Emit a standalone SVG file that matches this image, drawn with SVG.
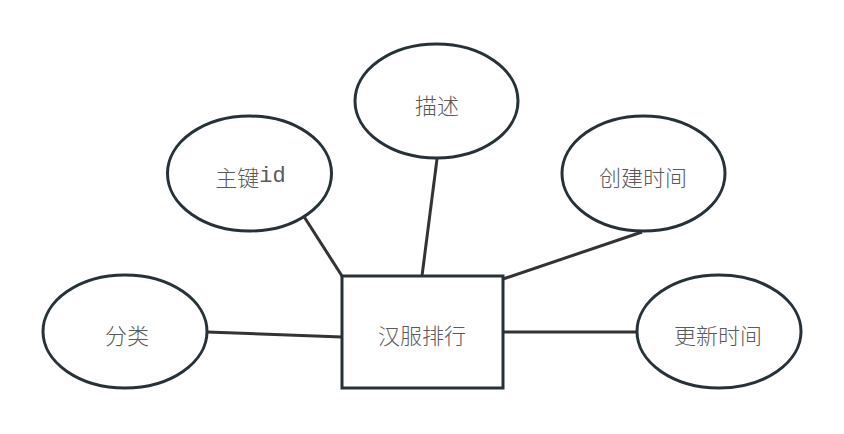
<svg xmlns="http://www.w3.org/2000/svg" width="844" height="434" viewBox="0 0 844 434">
<style>
.shape{fill:#fff;stroke:#263238;stroke-width:3}
.edge{stroke:#333;stroke-width:3;fill:none}
.lbl{font-family:"Noto Sans CJK SC","Noto Sans",sans-serif;font-size:22px;font-weight:300;fill:#5a5a5a;text-anchor:middle;dominant-baseline:central}
.mono{font-family:"Liberation Mono","DejaVu Sans Mono",monospace;font-weight:400}
</style>
<rect width="844" height="434" fill="#fff"/>
<g id="connectors">
<line class="edge" x1="303" y1="215" x2="342" y2="276"/>
<line class="edge" x1="437" y1="159" x2="422" y2="276"/>
<line class="edge" x1="642" y1="232" x2="503" y2="279"/>
<line class="edge" x1="207" y1="332" x2="342" y2="337"/>
<line class="edge" x1="503" y1="332" x2="637" y2="332"/>
</g>
<g id="main">
<rect class="shape" x="342" y="276" width="161" height="112"/>
<text class="lbl" x="422" y="334">汉服排行</text>
</g>
<g id="pk">
<ellipse class="shape" cx="249.5" cy="173.5" rx="82" ry="57.5"/>
<text class="lbl" x="250.5" y="176">主键<tspan class="mono">id</tspan></text>
</g>
<g id="desc">
<ellipse class="shape" cx="436.5" cy="101" rx="81.5" ry="57"/>
<text class="lbl" x="437" y="104">描述</text>
</g>
<g id="created">
<ellipse class="shape" cx="643.5" cy="173.5" rx="81.5" ry="57.5"/>
<text class="lbl" x="643" y="176">创建时间</text>
</g>
<g id="category">
<ellipse class="shape" cx="125" cy="331.5" rx="82" ry="56.5"/>
<text class="lbl" x="127" y="334">分类</text>
</g>
<g id="updated">
<ellipse class="shape" cx="719" cy="331.5" rx="82" ry="56.5"/>
<text class="lbl" x="718" y="334">更新时间</text>
</g>
</svg>
